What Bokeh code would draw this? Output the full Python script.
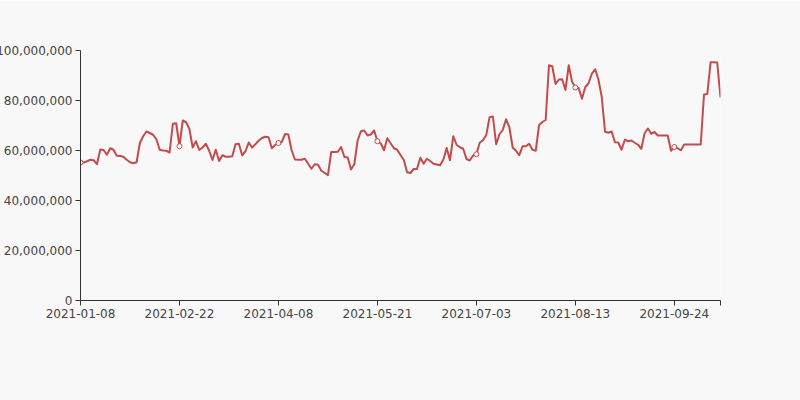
from bokeh.plotting import figure
from bokeh.models import ColumnDataSource, Range1d, FixedTicker, NumeralTickFormatter
from bokeh.embed import file_html
from bokeh.resources import INLINE

# daily values
values = [
    55200000, 55200000, 55700000, 56300000, 56100000, 54600000, 60400000, 60200000, 58300000, 60900000,
    60300000, 57900000, 57800000, 57500000, 56300000, 55300000, 54900000, 55300000, 63000000, 65700000,
    67600000, 67000000, 66300000, 64500000, 60300000, 60000000, 59900000, 59200000, 70700000, 70900000,
    61700000, 72000000, 71300000, 68700000, 61200000, 63700000, 60200000, 61200000, 62700000, 59900000,
    56200000, 60300000, 55800000, 58100000, 57500000, 57500000, 57700000, 62500000, 62700000, 58100000,
    59700000, 63200000, 61200000, 62500000, 63900000, 65000000, 65500000, 65300000, 60900000, 62200000,
    63000000, 63400000, 66600000, 66400000, 60100000, 56400000, 56300000, 56300000, 56700000, 54700000,
    52700000, 54500000, 54300000, 51900000, 51100000, 50100000, 59400000, 59400000, 59500000, 61400000,
    57400000, 57200000, 52400000, 54500000, 64000000, 67700000, 68000000, 66000000, 66400000, 68000000,
    63700000, 62900000, 60100000, 64900000, 62900000, 60900000, 60300000, 58200000, 56200000, 51300000,
    51000000, 52600000, 52600000, 57100000, 54700000, 56700000, 55800000, 54700000, 54400000, 54100000,
    56400000, 61000000, 56100000, 65700000, 62300000, 61300000, 60700000, 56600000, 56000000, 58000000,
    58500000, 63100000, 64100000, 66200000, 73300000, 73600000, 62500000, 66500000, 68200000, 72500000,
    69300000, 61200000, 59900000, 58100000, 61700000, 61700000, 62700000, 60300000, 59900000, 70200000,
    71400000, 72200000, 94100000, 93700000, 86600000, 88400000, 88500000, 84200000, 94100000, 87500000,
    85200000, 85000000, 80700000, 85300000, 86900000, 90700000, 92500000, 88400000, 81400000, 67500000,
    67100000, 67600000, 63300000, 63200000, 60300000, 64300000, 63700000, 64000000, 63100000, 62300000,
    60700000, 66900000, 68800000, 66700000, 67400000, 66000000, 66000000, 66000000, 66000000, 59900000,
    61400000, 60900000, 60100000, 62400000, 62400000, 62400000, 62400000, 62400000, 62400000, 82400000,
    82600000, 95300000, 95300000, 95200000, 81200000,
]

tick_index = [0, 30, 60, 90, 120, 150, 180]
tick_labels = ["2021-01-08", "2021-02-22", "2021-04-08", "2021-05-21",
               "2021-07-03", "2021-08-13", "2021-09-24"]
y_ticks = [0, 20000000, 40000000, 60000000, 80000000, 100000000]

n = len(values)
idx = list(range(n))
src = ColumnDataSource(data=dict(idx=idx, value=values))
mark_src = ColumnDataSource(data=dict(idx=tick_index, value=[values[i] for i in tick_index]))

SHIFT = 7
BG = "#f8f8f8"
FONT = "DejaVu Sans"
LINE = "#c44b4b"

p = figure(width=800 + SHIFT, height=400, output_backend="svg", toolbar_location=None,
           x_range=Range1d(0, n - 1), y_range=Range1d(0, 100000000),
           min_border_left=0, min_border_right=80, min_border_top=50, min_border_bottom=100)
p.styles = {"margin-left": f"-{SHIFT}px"}
p.background_fill_color = BG
p.border_fill_color = BG
p.outline_line_color = None
p.xgrid.grid_line_color = None
p.ygrid.grid_line_color = None

xa = p.xaxis[0]
xa.ticker = FixedTicker(ticks=tick_index + [n - 1])
ov = {i: lab for i, lab in zip(tick_index, tick_labels)}
ov[n - 1] = ""
xa.major_label_overrides = ov

ya = p.yaxis[0]
ya.ticker = FixedTicker(ticks=y_ticks)
ya.formatter = NumeralTickFormatter(format="0,0")

for ax in (xa, ya):
    ax.axis_line_color = "#333333"
    ax.axis_line_width = 1
    ax.major_tick_line_color = "#333333"
    ax.major_tick_in = 0
    ax.major_tick_out = 5
    ax.minor_tick_line_color = None
    ax.major_label_standoff = 3
    ax.major_label_text_color = "#444444"
    ax.major_label_text_font = FONT
    ax.major_label_text_font_size = "12px"

p.line(x="idx", y="value", source=src, line_color=LINE, line_width=2, line_join="round")
p.scatter(x="idx", y="value", source=mark_src, marker="circle", size=5,
          fill_color="white", line_color=LINE, line_width=1)

open("out.html", "w").write(file_html(p, INLINE))
